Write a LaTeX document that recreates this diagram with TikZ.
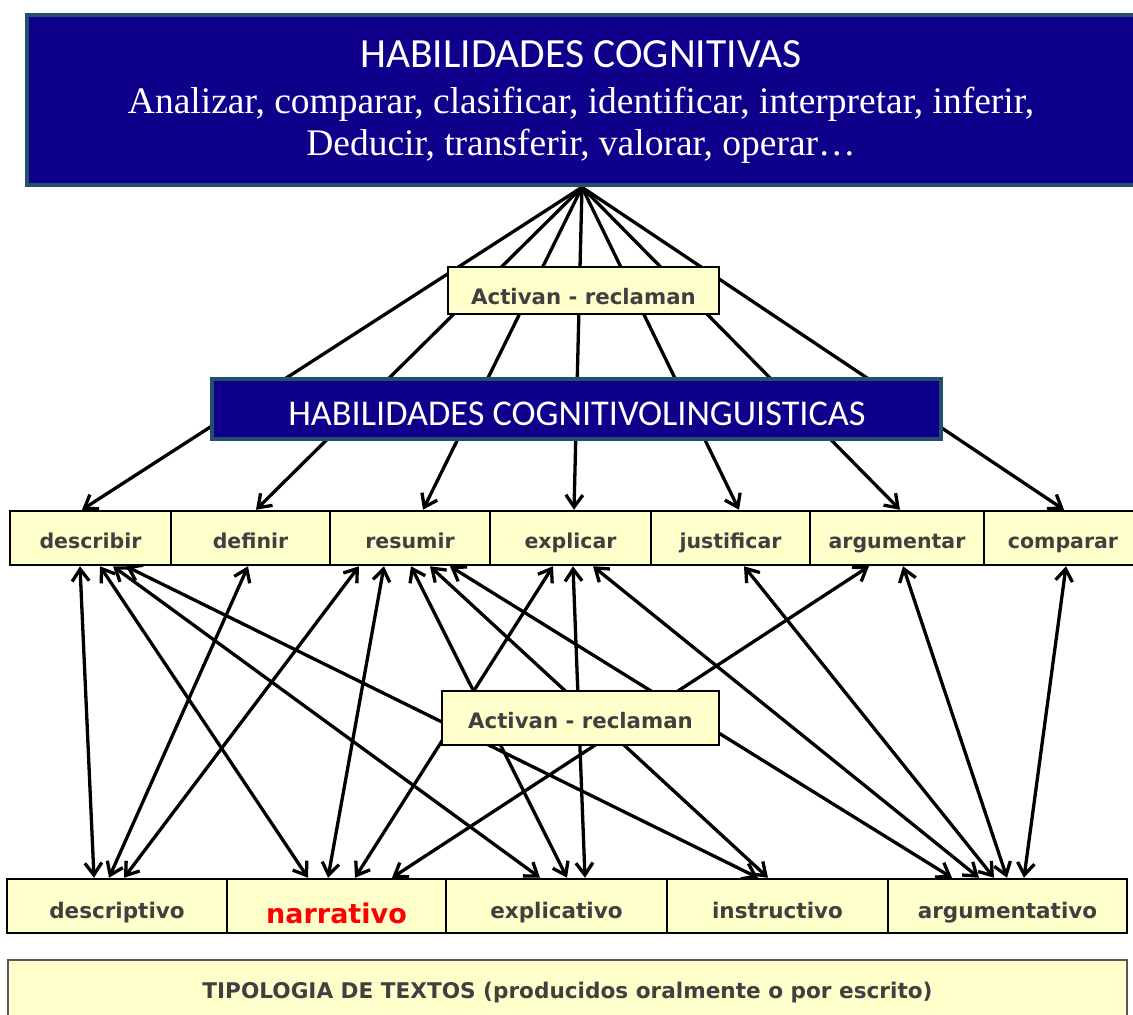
\documentclass[tikz,border=0pt]{standalone}
\usepackage{fontspec}
\usetikzlibrary{arrows.meta,calc}
\newfontfamily\carlito{Carlito}
\newfontfamily\tnr{Liberation Serif}
\newfontfamily\cbox{DejaVu Sans}
\definecolor{navyfill}{RGB}{14,0,138}
\definecolor{navyedge}{RGB}{36,80,110}
\definecolor{yfill}{RGB}{255,255,204}
\definecolor{tgray}{RGB}{64,64,64}
\definecolor{tred}{RGB}{255,0,0}
\pgfdeclarelayer{bg}
\pgfsetlayers{bg,main}
\begin{document}
\begin{tikzpicture}[x=1pt,y=-1pt,
  >={Straight Barb[length=12pt,width=17pt]},
  conn/.style={line width=3.3pt,draw=black},
  bluebox/.style={draw=navyedge,line width=4.5pt,fill=navyfill,inner sep=0pt},
  ybox/.style={draw=black,line width=2.5pt,fill=yfill,inner sep=0pt,text=tgray,
     font=\cbox\bfseries\fontsize{20.5}{24}\selectfont},
  basedrop/.style={text depth=2pt,text height=#1},
  midbox/.style={ybox,minimum height=54pt,basedrop=22pt},
  botbox/.style={ybox,minimum height=54pt,basedrop=26pt,font=\cbox\bfseries\fontsize{21.5}{25}\selectfont},
  whitetitle/.style={anchor=base,text=white,font=\carlito\fontsize{41.5}{44}\selectfont},
  whiteserif/.style={anchor=base,text=white,font=\tnr\fontsize{37.5}{40}\selectfont}
]
\useasboundingbox (0,0) rectangle (1133,1015);

% top box
\node[bluebox,minimum width=1113pt,minimum height=170pt] (top) at (583.5,100) {};
\node[whitetitle] (t1) at (581,67) {HABILIDADES COGNITIVAS};
\node[whiteserif] (t2) at (581,113) {Analizar, comparar, clasificar, identificar, interpretar, inferir,};
\node[whiteserif] (t3) at (581,155) {Deducir, transferir, valorar, operar…};

% activan 1
\node[ybox,font=\cbox\bfseries\fontsize{21.3}{24}\selectfont,basedrop=29pt,minimum width=271pt,minimum height=47pt] (act1) at (583.5,290.5) {Activan - reclaman};

% second blue box
\node[bluebox,minimum width=729pt,minimum height=60pt] (mid) at (576.5,409) {};
\node[whitetitle,font=\carlito\fontsize{36.3}{40}\selectfont] (t4) at (577,425) {HABILIDADES COGNITIVOLINGUISTICAS};

% middle row
\node[midbox,minimum width=161pt] (describir) at (90.5,538) {describir};
\node[midbox,minimum width=159pt] (definir) at (250.5,538) {definir};
\node[midbox,minimum width=160pt] (resumir) at (410,538) {resumir};
\node[midbox,minimum width=161pt] (explicar) at (570.5,538) {explicar};
\node[midbox,minimum width=159pt] (justificar) at (730.5,538) {justificar};
\node[midbox,minimum width=174pt] (argumentar) at (897,538) {argumentar};
\node[midbox,minimum width=158pt] (comparar) at (1063,538) {comparar};

% activan 2
\node[ybox,font=\cbox\bfseries\fontsize{21.3}{24}\selectfont,basedrop=22pt,minimum width=277pt,minimum height=54pt] (act2) at (580.5,718) {Activan - reclaman};

% bottom row
\node[botbox,minimum width=220pt] (descriptivo) at (117,906) {descriptivo};
\node[botbox,minimum width=219pt,text=tred,basedrop=36pt,font=\cbox\bfseries\fontsize{27}{30}\selectfont] (narrativo) at (336.5,906) {narrativo};
\node[botbox,minimum width=221pt] (explicativo) at (556.5,906) {explicativo};
\node[botbox,minimum width=221pt] (instructivo) at (777.5,906) {instructivo};
\node[botbox,minimum width=239pt] (argumentativo) at (1007.5,906) {argumentativo};

% tipologia
\node[ybox,draw=black!65,line width=2pt,minimum width=1119pt,minimum height=64pt,basedrop=14pt,
  font=\cbox\bfseries\fontsize{21.6}{24}\selectfont] (tipo) at (567.5,992)
  {TIPOLOGIA DE TEXTOS (producidos oralmente o por escrito)};

\begin{pgfonlayer}{bg}
% top fan
\draw[conn,->] ([xshift=-1.5pt]top.south) -- ([xshift=-8.5pt]describir.north);
\draw[conn,->] ([xshift=-1.5pt]top.south) -- ([xshift=5.5pt]definir.north);
\draw[conn,->] ([xshift=-1.5pt]top.south) -- ([xshift=13pt]resumir.north);
\draw[conn,->] ([xshift=-1.5pt]top.south) -- ([xshift=3.5pt]explicar.north);
\draw[conn,->] ([xshift=-1.5pt]top.south) -- ([xshift=8.5pt]justificar.north);
\draw[conn,->] ([xshift=-1.5pt]top.south) -- ([xshift=3pt]argumentar.north);
\draw[conn,->] ([xshift=-1.5pt]top.south) -- ([xshift=1pt]comparar.north);
% lower network
\draw[conn,<->] ([xshift=-10.5pt]describir.south) -- ([xshift=-23pt]descriptivo.north);
\draw[conn,<->] ([xshift=9.5pt]describir.south) -- ([xshift=-28.5pt]narrativo.north);
\draw[conn,<->] ([xshift=22.5pt]describir.south) -- ([xshift=-16.5pt]explicativo.north);
\draw[conn,<->] ([xshift=35.5pt]describir.south) -- ([xshift=-19.5pt]instructivo.north);
\draw[conn,<->] ([xshift=-2.5pt]definir.south) -- ([xshift=-8pt]descriptivo.north);
\draw[conn,<->] ([xshift=-51pt]resumir.south) -- ([xshift=7pt]descriptivo.north);
\draw[conn,<->] ([xshift=-26pt]resumir.south) -- ([xshift=-8.5pt]narrativo.north);
\draw[conn,<->] ([xshift=1pt]resumir.south) -- ([xshift=10.5pt]explicativo.north);
\draw[conn,<->] ([xshift=20pt]resumir.south) -- ([xshift=-9.5pt]instructivo.north);
\draw[conn,<->] ([xshift=40pt]resumir.south) -- ([xshift=-55.5pt]argumentativo.north);
\draw[conn,<->] ([xshift=-17.5pt]explicar.south) -- ([xshift=18.5pt]narrativo.north);
\draw[conn,<->] ([xshift=2.5pt]explicar.south) -- ([xshift=28.5pt]explicativo.north);
\draw[conn,<->] ([xshift=22.5pt]explicar.south) -- ([xshift=-28.5pt]argumentativo.north);
\draw[conn,<->] ([xshift=13.5pt]justificar.south) -- ([xshift=-13.5pt]argumentativo.north);
\draw[conn,<->] ([xshift=-28pt]argumentar.south) -- ([xshift=55.5pt]narrativo.north);
\draw[conn,<->] ([xshift=6pt]argumentar.south) -- ([xshift=-0.5pt]argumentativo.north);
\draw[conn,<->] ([xshift=3pt]comparar.south) -- ([xshift=16.5pt]argumentativo.north);
\end{pgfonlayer}
\end{tikzpicture}
\end{document}
